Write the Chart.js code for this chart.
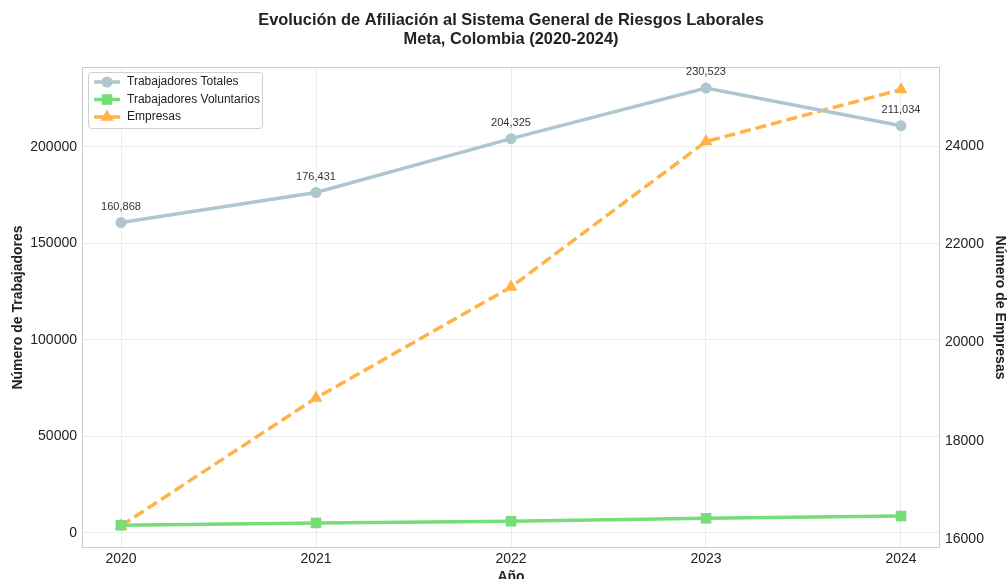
<!DOCTYPE html>
<html>
<head>
<meta charset="utf-8">
<script src="https://cdn.jsdelivr.net/npm/chart.js@4.4.1/dist/chart.umd.min.js"></script>
<style>
  html, body { margin: 0; padding: 0; background: #fff; overflow: hidden; }
  #wrap { width: 1008px; height: 579px; overflow: hidden; }
</style>
</head>
<body>
<div id="wrap"><canvas id="chart" width="1008" height="592"></canvas></div>
<script>
const years = [2020, 2021, 2022, 2023, 2024];
const trabajadoresTotales = [160868, 176431, 204325, 230523, 211034];
const trabajadoresVoluntarios = [4000, 5200, 6100, 7600, 8800];
const empresas = [16270, 18870, 21130, 24090, 25150];
const leftTicks = [0, 50000, 100000, 150000, 200000];
const rightTicks = [16000, 18000, 20000, 22000, 24000];
const titleLines = ['Evolución de Afiliación al Sistema General de Riesgos Laborales', 'Meta, Colombia (2020-2024)'];

const FONT = "'Liberation Sans', Arial, sans-serif";

const toPoints = vals => years.map((y, i) => ({ x: y, y: vals[i] }));

// title, frame, value labels and the legend box inside the plot
const decorations = {
  id: 'decorations',
  beforeDatasetsDraw(chart) {
    const { ctx, chartArea: a } = chart;
    ctx.save();
    ctx.strokeStyle = '#cccccc';
    ctx.lineWidth = 1;
    ctx.strokeRect(a.left + 0.5, a.top + 0.5, a.right - a.left - 1, a.bottom - a.top - 1);
    ctx.restore();
  },
  afterDraw(chart) {
    const { ctx, chartArea: a } = chart;
    ctx.save();
    // title
    ctx.fillStyle = '#222';
    ctx.font = 'bold 16.4px ' + FONT;
    ctx.textAlign = 'center';
    ctx.textBaseline = 'middle';
    const cx = (a.left + a.right) / 2;
    titleLines.forEach((t, i) => ctx.fillText(t, cx, 20 + i * 19));

    // value labels above the totals line
    const meta = chart.getDatasetMeta(0);
    ctx.font = '11px ' + FONT;
    ctx.fillStyle = '#333';
    meta.data.forEach((p, i) => {
      ctx.fillText(trabajadoresTotales[i].toLocaleString('en-US'), p.x, p.y - 16);
    });

    // legend
    const bx = a.left + 6, by = a.top + 5, bw = 174, bh = 56;
    ctx.fillStyle = 'rgba(255,255,255,0.85)';
    ctx.strokeStyle = '#d0d0d0';
    ctx.lineWidth = 1;
    ctx.beginPath();
    ctx.roundRect(bx + 0.5, by + 0.5, bw, bh, 3);
    ctx.fill();
    ctx.stroke();
    ctx.textAlign = 'left';
    ctx.font = '12px ' + FONT;
    chart.data.datasets.forEach((ds, i) => {
      const y = by + 10 + i * 17.5;
      const x0 = bx + 6, x1 = bx + 32;
      ctx.strokeStyle = ds.borderColor;
      ctx.lineWidth = ds.borderWidth;
      ctx.setLineDash(ds.borderDash || []);
      ctx.beginPath();
      ctx.moveTo(x0, y);
      ctx.lineTo(x1, y);
      ctx.stroke();
      ctx.setLineDash([]);
      ctx.fillStyle = ds.borderColor;
      Chart.helpers.drawPoint(ctx, { pointStyle: ds.pointStyle, radius: ds.pointRadius, borderWidth: 0, rotation: 0 }, (x0 + x1) / 2, y);
      ctx.fillStyle = '#222';
      ctx.fillText(ds.label, bx + 39, y);
    });
    ctx.restore();
  }
};

new Chart(document.getElementById('chart'), {
  type: 'line',
  data: {
    datasets: [
      {
        label: 'Trabajadores Totales',
        data: toPoints(trabajadoresTotales),
        yAxisID: 'y',
        borderColor: '#AEC6CF',
        backgroundColor: '#AEC6CF',
        borderWidth: 3.5,
        pointStyle: 'circle',
        pointRadius: 5.5,
        pointBorderWidth: 0
      },
      {
        label: 'Trabajadores Voluntarios',
        data: toPoints(trabajadoresVoluntarios),
        yAxisID: 'y',
        borderColor: '#77DD77',
        backgroundColor: '#77DD77',
        borderWidth: 3.5,
        pointStyle: 'rect',
        pointRadius: 7.5,
        pointBorderWidth: 0
      },
      {
        label: 'Empresas',
        data: toPoints(empresas),
        yAxisID: 'y1',
        borderColor: '#FFB347',
        backgroundColor: '#FFB347',
        borderWidth: 3.5,
        borderDash: [11, 5],
        pointStyle: 'triangle',
        pointRadius: 7.5,
        pointBorderWidth: 0
      }
    ]
  },
  options: {
    responsive: false,
    animation: false,
    layout: { padding: { top: 67 } },
    plugins: {
      legend: { display: false },
      tooltip: { enabled: false },
      title: { display: false }
    },
    scales: {
      x: {
        type: 'linear',
        min: 2019.8,
        max: 2024.2,
        afterBuildTicks: s => { s.ticks = years.map(v => ({ value: v })); },
        afterFit: s => { s.height = 44; },
        ticks: {
          callback: v => String(v),
          color: '#222',
          font: { family: FONT, size: 14 },
          padding: 3,
          maxRotation: 0
        },
        grid: { color: '#ececec', drawTicks: false },
        border: { display: false },
        title: { display: true, text: 'Año', color: '#222', font: { family: FONT, size: 14, weight: 'bold' }, padding: { top: 0, bottom: 6 } }
      },
      y: {
        position: 'left',
        min: -7772,
        max: 241450,
        afterBuildTicks: s => { s.ticks = leftTicks.map(v => ({ value: v })); },
        afterFit: s => { s.width = 82; },
        ticks: {
          callback: v => String(v),
          color: '#222',
          font: { family: FONT, size: 14 },
          padding: 5
        },
        grid: { color: '#ececec', drawTicks: false },
        border: { display: false },
        title: { display: true, text: 'Número de Trabajadores', color: '#222', font: { family: FONT, size: 14, weight: 'bold' }, padding: { top: 10, bottom: 4 } }
      },
      y1: {
        position: 'right',
        min: 15817,
        max: 25608,
        afterBuildTicks: s => { s.ticks = rightTicks.map(v => ({ value: v })); },
        afterFit: s => { s.width = 68; },
        ticks: {
          callback: v => String(v),
          color: '#222',
          font: { family: FONT, size: 14 },
          padding: 5
        },
        grid: { display: false, drawTicks: false },
        border: { display: false },
        title: { display: true, text: 'Número de Empresas', color: '#222', font: { family: FONT, size: 14, weight: 'bold' }, padding: { top: 0, bottom: 4 } }
      }
    }
  },
  plugins: [decorations]
});
</script>
</body>
</html>
